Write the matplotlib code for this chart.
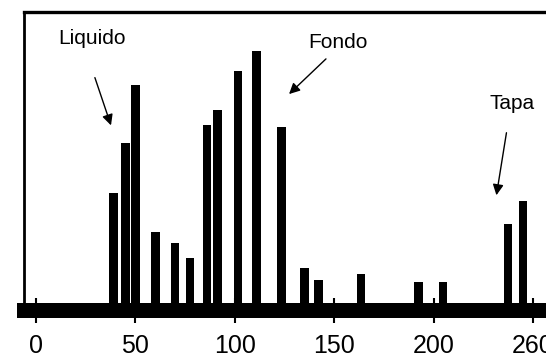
import matplotlib
matplotlib.use("Agg")
import matplotlib.pyplot as plt

# peak positions and heights (arbitrary intensity units)
pos = [39, 45, 50, 60, 70, 77.5, 86, 91.5, 101.6, 111,
       123.7, 135, 142, 163.5, 192.6, 204.7, 237.4, 245]
heights = [117, 167, 225, 78, 67, 52, 185, 200, 239, 259,
           183, 42, 30, 36, 28, 28, 86, 109]
tick_pos = [0, 50, 100, 150, 200, 250]
tick_labels = ["0", "50", "100", "150", "200", "260"]

plt.rcParams['font.family'] = ['Liberation Sans', 'DejaVu Sans']

fig = plt.figure(figsize=(5.46, 3.61), dpi=100)
ax = fig.add_axes([0.044, 0.1399, 0.9867, 0.8269])

ax.bar(pos, heights, width=4.4, color='black', zorder=1)

ax.set_xlim(-6, 265)
ax.set_ylim(0, 298.5)
ax.set_xticks(tick_pos)
ax.set_xticklabels(tick_labels)
ax.set_yticks([])
ax.tick_params(axis='x', direction='inout', length=18, width=1.5,
               labelsize=18, pad=8)

ax.spines['bottom'].set_linewidth(10.8)
ax.spines['bottom'].set_capstyle('projecting')
ax.spines['top'].set_linewidth(2.4)
ax.spines['left'].set_linewidth(2.0)
ax.spines['right'].set_linewidth(2.0)

arrow = dict(arrowstyle='-|>', color='black', lw=1.0, mutation_scale=16)
ax.text(28.2, 271.5, "Liquido", fontsize=15, ha='center', va='center')
ax.annotate("", xy=(38.2, 182.5), xytext=(29.2, 235.5), arrowprops=arrow)
ax.text(151.9, 267.5, "Fondo", fontsize=15, ha='center', va='center')
ax.annotate("", xy=(126.3, 214.5), xytext=(146.9, 253.5), arrowprops=arrow)
ax.text(239.4, 206.5, "Tapa", fontsize=15, ha='center', va='center')
ax.annotate("", xy=(231.4, 112.5), xytext=(236.9, 180.5), arrowprops=arrow)

fig.savefig("out.png", dpi=100)
